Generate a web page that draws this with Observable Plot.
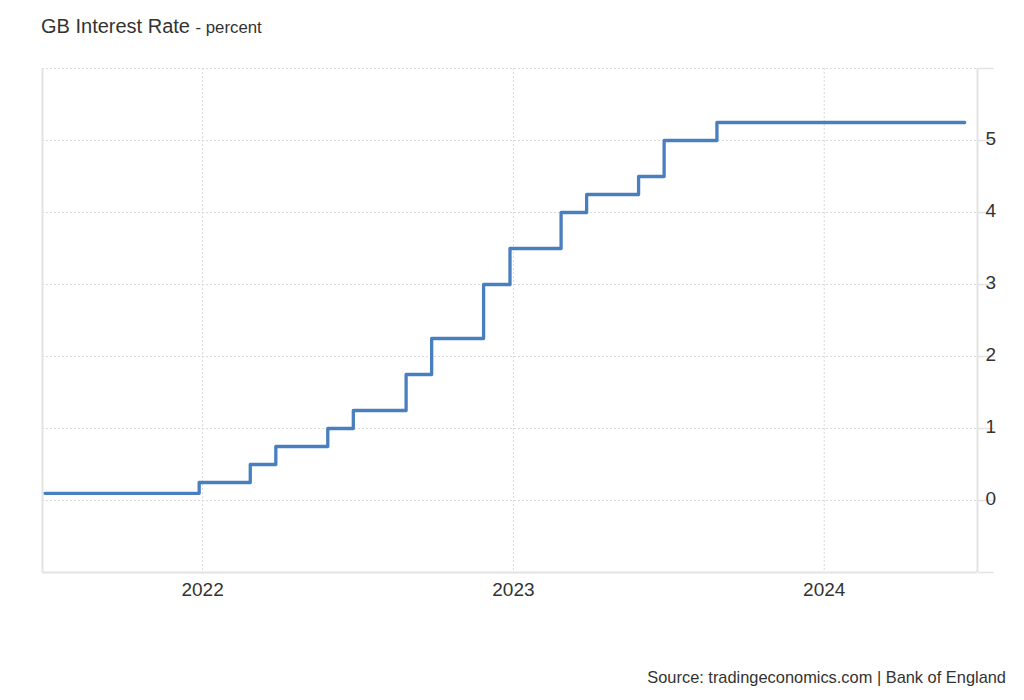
<!DOCTYPE html>
<html>
<head>
<meta charset="utf-8">
<script src="https://cdn.jsdelivr.net/npm/d3@7"></script>
<script src="https://cdn.jsdelivr.net/npm/@observablehq/plot@0.6"></script>
<style>
  html, body { margin: 0; padding: 0; background: #fff; overflow: hidden; }
  body { width: 1024px; height: 700px; position: relative; font-family: "Liberation Sans", Arial, sans-serif; color: #333; }
  #chart { position: absolute; left: 0; top: 0; }
  #title { position: absolute; left: 41px; top: 15px; font-size: 20px; color: #333; z-index: 2; white-space: nowrap; }
  #title span { font-size: 16.8px; }
  #caption { position: absolute; right: 18px; top: 668px; font-size: 16.4px; color: #333; z-index: 2; white-space: nowrap; }
</style>
</head>
<body>
<div id="chart"></div>
<div id="title">GB Interest Rate <span>- percent</span></div>
<div id="caption">Source: tradingeconomics.com | Bank of England</div>
<script>
// Data (step changes in the Bank Rate, monthly dates)
const dates = [
  "2021-06-30", "2021-12-28", "2022-02-26", "2022-03-28", "2022-05-28",
  "2022-06-27", "2022-08-28", "2022-09-27", "2022-11-27", "2022-12-28",
  "2023-02-26", "2023-03-28", "2023-05-28", "2023-06-27", "2023-08-28",
  "2024-06-14"
];
const rates = [
  0.1, 0.25, 0.5, 0.75, 1.0,
  1.25, 1.75, 2.25, 3.0, 3.5,
  4.0, 4.25, 4.5, 5.0, 5.25,
  5.25
];
const xTickYears = ["2022-01-01", "2023-01-01", "2024-01-01"];
const yTicks = [-1, 0, 1, 2, 3, 4, 5, 6];
const yLabels = [0, 1, 2, 3, 4, 5];
const xDomain = ["2021-06-27", "2024-06-29"];
const yDomain = [-1, 6];

const data = dates.map((d, i) => ({date: new Date(d), rate: rates[i]}));
const xTicks = xTickYears.map(d => new Date(d));
const xDom = xDomain.map(d => new Date(d));

const lineColor = "#4a7fbf";
const frameColor = "#e3e3e3";
const gridColor = "#d9d9d9";

const chart = Plot.plot({
  width: 1024,
  height: 640,
  marginTop: 68,
  marginBottom: 68,
  marginLeft: 42,
  marginRight: 47,
  style: {fontFamily: "'Liberation Sans', Arial, sans-serif", color: "#333", background: "transparent"},
  x: {type: "utc", domain: xDom},
  y: {domain: yDomain},
  marks: [
    Plot.gridY(yTicks.filter(v => v > yDomain[0]), {stroke: gridColor, strokeOpacity: 1, strokeDasharray: "2,2"}),
    Plot.gridX(xTicks, {stroke: gridColor, strokeOpacity: 1, strokeDasharray: "2,2"}),
    Plot.ruleX([xDom[0]], {stroke: frameColor, strokeWidth: 2}),
    Plot.ruleX([xDom[1]], {stroke: frameColor, strokeWidth: 2}),
    Plot.ruleY([yDomain[0]], {stroke: frameColor, strokeWidth: 2}),
    Plot.axisY(yTicks, {anchor: "right", tickSize: 16, stroke: frameColor, strokeOpacity: 1, strokeWidth: 1.5, tickFormat: () => "", label: null}),
    Plot.axisY(yLabels, {anchor: "right", tickSize: 0, tickPadding: 8, fontSize: 19, dy: -2, fill: "#333", tickFormat: d => String(d), label: null}),
    Plot.axisX(xTicks, {anchor: "bottom", tickSize: 0, tickPadding: 10, fontSize: 19, fill: "#333", tickFormat: d3.utcFormat("%Y"), label: null}),
    Plot.line(data, {x: "date", y: "rate", curve: "step-after", stroke: lineColor, strokeWidth: 3.3})
  ]
});
document.getElementById("chart").appendChild(chart);
</script>
</body>
</html>
